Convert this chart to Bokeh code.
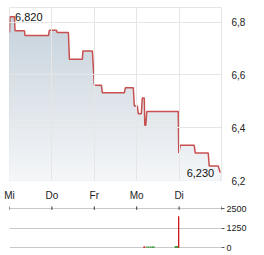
import numpy as np
from bokeh.plotting import figure
from bokeh.layouts import column
from bokeh.models import FixedTicker, Range1d
from bokeh.core.properties import value
from bokeh.embed import file_html
from bokeh.resources import INLINE

# ---- data (time in trading days from Mi) ----
price_t = [0.0, 0.012, 0.118, 0.130, 0.353, 0.365, 0.918, 0.942, 1.107, 1.130,
           1.390, 1.413, 1.719, 1.731, 1.955, 2.002, 2.167, 2.190, 2.708, 2.732,
           2.920, 2.944, 3.015, 3.038, 3.109, 3.132, 3.179, 3.191, 3.215, 3.238,
           3.980, 3.992, 4.028, 4.357, 4.381, 4.687, 4.710, 4.922, 4.969]
price_v = [6.76, 6.82, 6.82, 6.767, 6.767, 6.749, 6.749, 6.769, 6.769, 6.76,
           6.76, 6.659, 6.659, 6.69, 6.69, 6.561, 6.561, 6.532, 6.532, 6.551,
           6.551, 6.482, 6.482, 6.453, 6.453, 6.512, 6.512, 6.409, 6.409, 6.461,
           6.461, 6.304, 6.333, 6.333, 6.304, 6.304, 6.255, 6.255, 6.23]

vol_t = [3.17, 3.19, 3.24, 3.28, 3.32, 3.36, 3.38, 3.41, 3.91, 3.93, 3.95, 3.97, 3.99]
vol_v = [90, 90, 80, 80, 80, 90, 90, 90, 100, 100, 100, 100, 2000]
vol_c = ["#cc1111", "#cc1111", "#1e8c1e", "#1e8c1e", "#1e8c1e", "#1e8c1e", "#1e8c1e",
         "#1e8c1e", "#1e8c1e", "#1e8c1e", "#1e8c1e", "#1e8c1e", "#cc1111"]

day_ticks = [0, 1, 2, 3, 4]
day_labels = ["Mi", "Do", "Fr", "Mo", "Di"]
day_marks = [0, 1, 2, 3, 4, 5]
price_ticks = [6.2, 6.4, 6.6, 6.8]
price_labels = ["6,2", "6,4", "6,6", "6,8"]
vol_ticks = [0, 1250, 2500]
vol_labels = ["0", "1250", "2500"]

FONT = "Liberation Sans"
TXT = "#222222"

# ---- price chart ----
ylo, yhi = 6.2, 6.855
p = figure(width=264, height=203, output_backend="svg", toolbar_location=None,
           x_range=Range1d(0, 5), y_range=Range1d(ylo, yhi), y_axis_location="right",
           min_border_left=9, min_border_right=43, min_border_top=7, min_border_bottom=17)
p.background_fill_color = "white"
p.border_fill_color = "white"
p.outline_line_color = "#e6e6e6"

# vertical gradient fill under the line (layered, dark top -> light bottom)
t_arr = np.array(price_t)
v_arr = np.array(price_v)
top_c = np.array([196, 208, 218])
bot_c = np.array([245, 247, 249])
N = 40
edges = np.linspace(ylo, yhi, N + 1)
for k in range(N, 0, -1):
    b = edges[k]
    frac = (yhi - b) / (yhi - ylo)
    c = top_c + (bot_c - top_c) * frac
    col = "#%02x%02x%02x" % tuple(int(round(x)) for x in c)
    p.varea(x=t_arr, y1=np.full_like(v_arr, ylo), y2=np.minimum(v_arr, b),
            fill_color=col, fill_alpha=1.0)

p.line(price_t, price_v, line_color="#c85050", line_width=1.5)

imax = int(np.argmax(v_arr))
imin = int(np.argmin(v_arr))
p.text(x=[price_t[imax]], y=[price_v[imax]], text=[f"{price_v[imax]:.3f}".replace(".", ",")],
       text_font=value(FONT), text_font_size=value("11px"), text_color="#111111",
       text_align="left", text_baseline="middle", x_offset=5)
p.text(x=[price_t[imin]], y=[price_v[imin]], text=[f"{price_v[imin]:.3f}".replace(".", ",")],
       text_font=value(FONT), text_font_size=value("11px"), text_color="#111111",
       text_align="right", text_baseline="middle", x_offset=-6)

p.xaxis.ticker = FixedTicker(ticks=day_ticks)
p.xaxis.major_label_overrides = {t: l for t, l in zip(day_ticks, day_labels)}
p.xaxis.axis_line_color = None
p.xaxis.major_tick_line_color = None
p.xaxis.minor_tick_line_color = None
p.xaxis.major_label_standoff = 3
p.xaxis.major_label_text_font = FONT
p.xaxis.major_label_text_font_size = "10px"
p.xaxis.major_label_text_color = TXT

p.yaxis.ticker = FixedTicker(ticks=price_ticks)
p.yaxis.major_label_overrides = {t: l for t, l in zip(price_ticks, price_labels)}
p.yaxis.axis_line_color = None
p.yaxis.major_tick_line_color = None
p.yaxis.minor_tick_line_color = None
p.yaxis.major_label_standoff = 4
p.yaxis.major_label_text_font = FONT
p.yaxis.major_label_text_font_size = "10px"
p.yaxis.major_label_text_color = TXT

p.xgrid.ticker = FixedTicker(ticks=day_ticks)
p.ygrid.ticker = FixedTicker(ticks=price_ticks)
p.xgrid.grid_line_color = "#e6e6e6"
p.ygrid.grid_line_color = "#e6e6e6"
p.xgrid.level = "overlay"
p.ygrid.level = "overlay"

# ---- volume chart ----
q = figure(width=264, height=52, output_backend="svg", toolbar_location=None,
           x_range=Range1d(0, 5), y_range=Range1d(-108, 2691),
           x_axis_location=None, y_axis_location="right",
           min_border_left=9, min_border_right=43, min_border_top=2, min_border_bottom=6)
q.background_fill_color = "white"
q.border_fill_color = "white"
q.outline_line_color = None

# small day tick marks on the top (2500) line
q.segment(x0=day_marks, x1=day_marks, y0=[vol_ticks[-1] - 85] * len(day_marks),
          y1=[vol_ticks[-1] + 130] * len(day_marks), line_color="#333333", line_width=1)

q.vbar(x=vol_t, top=vol_v, bottom=0, width=0.03, fill_color=vol_c, line_color=None)

q.yaxis.ticker = FixedTicker(ticks=vol_ticks)
q.yaxis.major_label_overrides = {t: l for t, l in zip(vol_ticks, vol_labels)}
q.yaxis.axis_line_color = None
q.yaxis.major_tick_line_color = "#555555"
q.yaxis.major_tick_out = 3
q.yaxis.major_tick_in = 0
q.yaxis.minor_tick_line_color = None
q.yaxis.major_label_standoff = 2
q.yaxis.major_label_text_font = FONT
q.yaxis.major_label_text_font_size = "9px"
q.yaxis.major_label_text_color = TXT

q.xgrid.grid_line_color = None
q.ygrid.ticker = FixedTicker(ticks=vol_ticks)
q.ygrid.grid_line_color = "#c8c8c8"

layout = column(p, q, spacing=0)
open("out.html", "w").write(file_html(layout, INLINE))
